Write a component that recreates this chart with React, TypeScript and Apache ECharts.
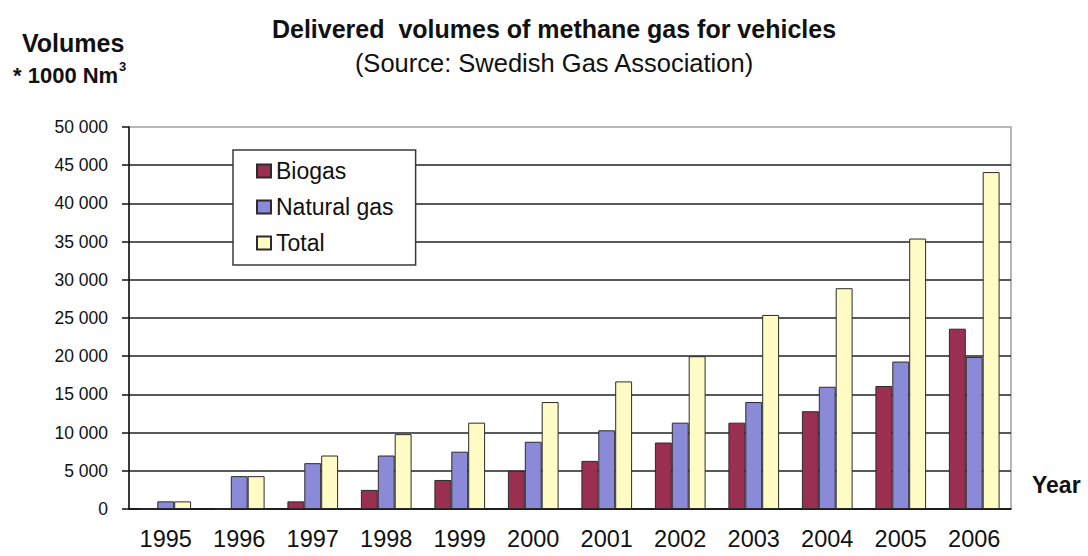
import React, { useEffect, useRef } from "react";
import * as echarts from "echarts";

// Delivered volumes of methane gas for vehicles, thousand Nm³ per year
const years = ["1995", "1996", "1997", "1998", "1999", "2000", "2001", "2002", "2003", "2004", "2005", "2006"];
const biogas = [0, 0, 1000, 2500, 3800, 5000, 6300, 8700, 11300, 12800, 16100, 23600];
const naturalGas = [1000, 4300, 6000, 7000, 7500, 8800, 10300, 11300, 14000, 16000, 19300, 19900];
const total = [1000, 4300, 7000, 9800, 11300, 14000, 16700, 20000, 25400, 28900, 35400, 44100];

const FONT = "'Liberation Sans', Arial, Helvetica, sans-serif";

const formatThousands = (v: number) =>
  v === 0 ? "0" : `${Math.floor(v / 1000)} ${String(v % 1000).padStart(3, "0")}`;

export default function App() {
  const ref = useRef<HTMLDivElement>(null);

  useEffect(() => {
    if (!ref.current) return;
    const chart = echarts.init(ref.current, null, { renderer: "svg" });

    const barBorder = { borderColor: "#2b2b2b", borderWidth: 1 };

    chart.setOption({
      animation: false,
      backgroundColor: "#fff",
      textStyle: { fontFamily: FONT },
      grid: {
        left: 129,
        right: 77,
        top: 127,
        bottom: 47,
        show: true,
        borderColor: "#a0a0a0",
        borderWidth: 1.5,
      },
      legend: {
        orient: "vertical",
        left: 233,
        top: 150,
        padding: [8, 22, 9, 23],
        itemWidth: 14,
        itemHeight: 13,
        itemGap: 10,
        icon: "rect",
        backgroundColor: "#fff",
        borderColor: "#3a3a3a",
        borderWidth: 1.5,
        textStyle: { fontFamily: FONT, fontSize: 23, color: "#111", lineHeight: 26 },
        data: ["Biogas", "Natural gas", "Total"],
      },
      xAxis: {
        type: "category",
        data: years,
        axisLine: { lineStyle: { color: "#111", width: 1.5 } },
        axisTick: { length: 7, lineStyle: { color: "#111", width: 1.5 } },
        axisLabel: { margin: 18, fontSize: 23.5, color: "#111", fontFamily: FONT },
        splitLine: { show: false },
      },
      yAxis: {
        type: "value",
        min: 0,
        max: 50000,
        interval: 5000,
        axisLine: { show: true, lineStyle: { color: "#111", width: 1.5 } },
        axisTick: { show: true, length: 7, lineStyle: { color: "#111", width: 1.5 } },
        axisLabel: {
          margin: 21,
          fontSize: 17.5,
          color: "#111",
          fontFamily: FONT,
          formatter: (v: number) => formatThousands(v),
        },
        splitLine: {
          show: true,
          showMaxLine: false,
          lineStyle: { color: "#222", width: 1.5 },
        },
      },
      series: [
        {
          name: "Biogas",
          type: "bar",
          data: biogas,
          barGap: "0%",
          barCategoryGap: "31%",
          itemStyle: { color: "#9a2f52", ...barBorder },
        },
        {
          name: "Natural gas",
          type: "bar",
          data: naturalGas,
          barGap: "0%",
          barCategoryGap: "31%",
          itemStyle: { color: "#8a8ad8", ...barBorder },
        },
        {
          name: "Total",
          type: "bar",
          data: total,
          barGap: "0%",
          barCategoryGap: "31%",
          itemStyle: { color: "#fffbc4", ...barBorder },
        },
      ],
      graphic: [
        {
          type: "text",
          x: 554,
          y: 29,
          style: {
            text: "Delivered  volumes of methane gas for vehicles",
            fontFamily: FONT,
            fontSize: 25,
            fontWeight: "bold",
            fill: "#111",
            align: "center",
            verticalAlign: "middle",
          },
        },
        {
          type: "text",
          x: 554,
          y: 63,
          style: {
            text: "(Source: Swedish Gas Association)",
            fontFamily: FONT,
            fontSize: 25.5,
            fill: "#111",
            align: "center",
            verticalAlign: "middle",
          },
        },
        {
          type: "text",
          x: 22,
          y: 43,
          style: {
            text: "Volumes",
            fontFamily: FONT,
            fontSize: 25,
            fontWeight: "bold",
            fill: "#111",
            align: "left",
            verticalAlign: "middle",
          },
        },
        {
          type: "text",
          x: 13,
          y: 75,
          style: {
            text: "* 1000 Nm",
            fontFamily: FONT,
            fontSize: 22,
            fontWeight: "bold",
            fill: "#111",
            align: "left",
            verticalAlign: "middle",
          },
        },
        {
          type: "text",
          x: 119,
          y: 66,
          style: {
            text: "3",
            fontFamily: FONT,
            fontSize: 13,
            fontWeight: "bold",
            fill: "#111",
            align: "left",
            verticalAlign: "middle",
          },
        },
        {
          type: "text",
          x: 1032,
          y: 485,
          style: {
            text: "Year",
            fontFamily: FONT,
            fontSize: 23,
            fontWeight: "bold",
            fill: "#111",
            align: "left",
            verticalAlign: "middle",
          },
        },
      ],
    });

    return () => chart.dispose();
  }, []);

  return (
    <div
      ref={ref}
      style={{ position: "fixed", left: 0, top: 0, width: 1088, height: 556 }}
    />
  );
}
